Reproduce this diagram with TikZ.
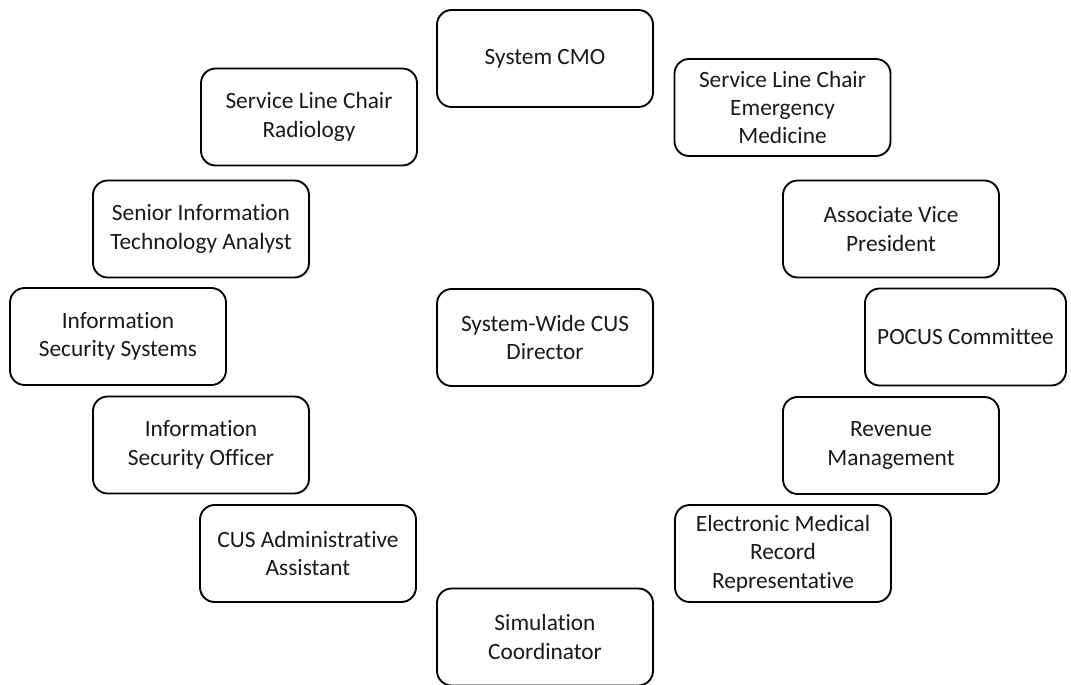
\documentclass[tikz,border=0pt]{standalone}
\usepackage{fontspec}
\setmainfont{Carlito}[Ligatures={NoCommon}]
\begin{document}
\begin{tikzpicture}[x=0.75pt,y=-0.75pt,
  box/.style={draw=black, line width=1.4pt, rounded corners=11pt,
    minimum width=162pt, minimum height=72.75pt, align=center, inner sep=0pt,
    font=\fontsize{17.5}{21.3}\selectfont, text=black!90},
]
\useasboundingbox (0,0) rectangle (1071,685);
\node[box] (cmo) at (545,58.5) {System CMO};
\node[box] (rad) at (309,117) {Service Line Chair\\Radiology};
\node[box] (em) at (782.5,107.5) {Service Line Chair\\Emergency\\Medicine};
\node[box] (sit) at (201,229) {Senior Information\\Technology Analyst};
\node[box] (avp) at (891,229) {Associate Vice\\President};
\node[box] (iss) at (118,336.5) {Information\\Security Systems};
\node[box] (dir) at (545,337.5) {System-Wide CUS\\Director};
\node[box, minimum width=150.75pt] (pocus) at (965.5,337) {POCUS Committee};
\node[box] (iso) at (201,445) {Information\\Security Officer};
\node[box] (rev) at (891,445.5) {Revenue\\Management};
\node[box] (adm) at (308,553.5) {CUS Administrative\\Assistant};
\node[box] (emr) at (783,553.5) {Electronic Medical\\Record\\Representative};
\node[box] (sim) at (545,637) {Simulation\\Coordinator};
\end{tikzpicture}
\end{document}
